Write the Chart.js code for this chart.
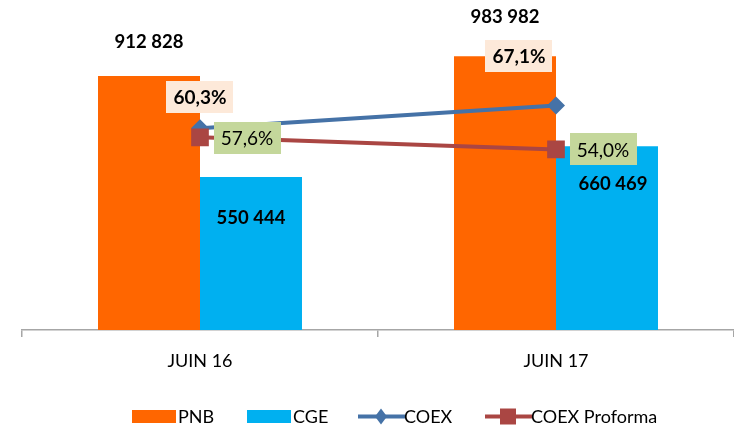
<!DOCTYPE html>
<html>
<head>
<meta charset="utf-8">
<script src="https://cdn.jsdelivr.net/npm/chart.js@4/dist/chart.umd.min.js"></script>
<style>
  html, body { margin: 0; padding: 0; background: #ffffff; }
  #wrap { width: 734px; height: 426px; }
</style>
</head>
<body>
<div id="wrap"><canvas id="c" width="734" height="426"></canvas></div>
<script>
// ---- data ----
const categories = ['JUIN 16', 'JUIN 17'];
const pnbValues = [912828, 983982];
const cgeValues = [550444, 660469];
const coexValues = [60.3, 67.1];
const coexProformaValues = [57.6, 54.0];
const seriesNames = ['PNB', 'CGE', 'COEX', 'COEX Proforma'];

// ---- styles ----
const COL_PNB = '#FF6600';
const COL_CGE = '#00B0F0';
const COL_COEX = '#4572A7';
const COL_PRO = '#AA4643';
const FONT = 'Lato, "Open Sans", "Liberation Sans", sans-serif';

const labelStyle = {
  0: { offsets: [[0, -35], [0, -40]], bold: true, size: 18.5 },
  1: { offsets: [[0, 40], [6, 37]], bold: true, size: 18.5 },
  2: { offsets: [[0, -31], [-37, -50]], bold: true, size: 19, box: '#FDE9D9' },
  3: { offsets: [[47, 1], [47, 0]], bold: false, size: 19, box: '#C4D79B' }
};
const legendMarkerX = [132, 247, 358, 485];

function fmtNum(v) { return String(v).replace(/\B(?=(\d{3})+(?!\d))/g, ' '); }
function fmtPct(v) { return v.toFixed(1).replace('.', ',') + '%'; }

const labelPlugin = {
  id: 'labels',
  afterDatasetsDraw(chart) {
    const ctx = chart.ctx;
    ctx.save();
    chart.data.datasets.forEach((ds, di) => {
      const meta = chart.getDatasetMeta(di);
      const st = labelStyle[di];
      meta.data.forEach((el, i) => {
        const v = ds.data[i];
        const txt = di < 2 ? fmtNum(v) : fmtPct(v);
        const x = el.x + st.offsets[i][0];
        const y = el.y + st.offsets[i][1];
        ctx.font = (st.bold ? 'bold ' : '') + st.size + 'px ' + FONT;
        ctx.textAlign = 'center';
        ctx.textBaseline = 'middle';
        if (st.box) {
          const w = ctx.measureText(txt).width + 14;
          const h = 32;
          ctx.fillStyle = st.box;
          ctx.fillRect(Math.round(x - w / 2), Math.round(y - h / 2), Math.round(w), h);
        }
        ctx.fillStyle = '#000000';
        ctx.fillText(txt, x, y + 1);
      });
    });
    ctx.restore();
  }
};

const legendPlugin = {
  id: 'customLegend',
  afterDraw(chart) {
    const ctx = chart.ctx;
    ctx.save();
    ctx.font = '18px ' + FONT;
    ctx.textBaseline = 'middle';
    ctx.textAlign = 'left';
    const yc = 416.5;
    const markerW = 44, gapText = 2;
    const kinds = ['rect', 'rect', 'diamond', 'square'];
    const cols = [COL_PNB, COL_CGE, COL_COEX, COL_PRO];
    chart.data.datasets.forEach((ds, i) => {
      const x = legendMarkerX[i];
      const c = cols[i];
      if (kinds[i] === 'rect') {
        ctx.fillStyle = c;
        ctx.fillRect(x, 410, markerW, 13);
      } else {
        ctx.strokeStyle = c;
        ctx.lineWidth = 4;
        ctx.beginPath();
        ctx.moveTo(x, yc);
        ctx.lineTo(x + markerW + 3, yc);
        ctx.stroke();
        const cx = x + markerW / 2 + 1;
        ctx.fillStyle = c;
        ctx.beginPath();
        if (kinds[i] === 'diamond') {
          ctx.moveTo(cx, yc - 8);
          ctx.lineTo(cx + 6, yc);
          ctx.lineTo(cx, yc + 8);
          ctx.lineTo(cx - 6, yc);
          ctx.closePath();
        } else {
          ctx.rect(cx - 8, yc - 8, 16, 16);
        }
        ctx.fill();
      }
      ctx.fillStyle = '#000000';
      ctx.fillText(ds.label, x + markerW + gapText, yc + 1);
    });
    ctx.restore();
  }
};

new Chart(document.getElementById('c'), {
  type: 'bar',
  data: {
    labels: categories,
    datasets: [
      { type: 'bar', label: seriesNames[0], data: pnbValues, backgroundColor: COL_PNB, yAxisID: 'y', order: 3,
        categoryPercentage: 0.573, barPercentage: 1.0 },
      { type: 'bar', label: seriesNames[1], data: cgeValues, backgroundColor: COL_CGE, yAxisID: 'y', order: 3,
        categoryPercentage: 0.573, barPercentage: 1.0 },
      { type: 'line', label: seriesNames[2], data: coexValues, borderColor: COL_COEX, backgroundColor: COL_COEX,
        borderWidth: 4, pointStyle: 'rectRot', pointRadius: 9, pointBorderWidth: 0, yAxisID: 'y1', order: 2, tension: 0 },
      { type: 'line', label: seriesNames[3], data: coexProformaValues, borderColor: COL_PRO, backgroundColor: COL_PRO,
        borderWidth: 4, pointStyle: 'rect', pointRadius: 12.5, pointBorderWidth: 0, yAxisID: 'y1', order: 1, tension: 0 }
    ]
  },
  options: {
    responsive: false,
    devicePixelRatio: 1,
    animation: false,
    layout: { padding: { top: 24, left: 22, right: 0, bottom: 0 }, autoPadding: false },
    plugins: { legend: { display: false }, tooltip: { enabled: false } },
    scales: {
      x: {
        offset: true,
        grid: { offset: true, drawOnChartArea: false, drawTicks: true, tickLength: 7, color: '#A6A6A6', lineWidth: 1.5 },
        border: { display: true, color: '#A6A6A6', width: 1.5 },
        ticks: { font: { family: FONT, size: 18 }, color: '#000000', padding: 13, maxRotation: 0 },
        afterFit(scale) { scale.height = 96; }
      },
      y: { display: false, min: 0, max: 1100000 },
      y1: { display: false, position: 'right', min: 0, max: 91.5 }
    }
  },
  plugins: [labelPlugin, legendPlugin]
});
</script>
</body>
</html>
